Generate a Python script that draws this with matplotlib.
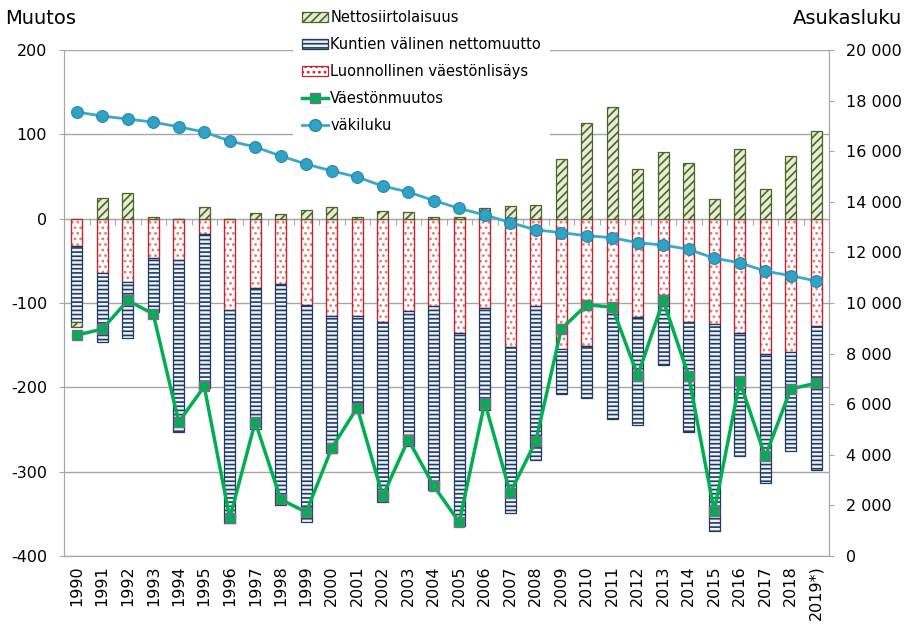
import numpy as np
import matplotlib
matplotlib.use('Agg')
import matplotlib.pyplot as plt
from matplotlib.patches import Patch
from matplotlib.lines import Line2D
from matplotlib.ticker import FuncFormatter, MultipleLocator

# data
years = ['1990', '1991', '1992', '1993', '1994', '1995', '1996', '1997', '1998', '1999',
         '2000', '2001', '2002', '2003', '2004', '2005', '2006', '2007', '2008', '2009',
         '2010', '2011', '2012', '2013', '2014', '2015', '2016', '2017', '2018', '2019*)']

luonnollinen = [-32, -65, -75, -47, -49, -18, -108, -82, -78, -102,
                -116, -116, -122, -110, -103, -136, -106, -152, -103, -154,
                -151, -111, -117, -91, -123, -125, -136, -160, -158, -127]

kuntien = [-91, -81, -67, -64, -204, -183, -253, -167, -262, -258,
           -162, -115, -214, -159, -219, -228, -121, -197, -183, -54,
           -62, -126, -128, -83, -130, -245, -145, -154, -117, -171]

netto = [-5, 25, 30, 2, 0, 14, 0, 7, 5, 10,
         14, 2, 9, 8, 2, 2, 13, 15, 16, 71,
         113, 132, 59, 79, 66, 23, 83, 35, 74, 104]

muutos = [-138, -131, -97, -113, -241, -199, -355, -241, -333, -348,
          -272, -224, -329, -262, -317, -360, -218, -325, -264, -131,
          -102, -105, -186, -97, -187, -347, -193, -282, -202, -195]

vakiluku = [17550, 17390, 17270, 17150, 16960, 16760, 16400, 16170, 15810, 15490,
            15220, 14980, 14620, 14390, 14050, 13740, 13480, 13180, 12890, 12780,
            12660, 12580, 12380, 12290, 12120, 11770, 11590, 11260, 11080, 10870]

RED = '#c0262d'
NAVY = '#1f3b63'
OLIVE = '#4f6228'
GREEN = '#00b050'
CYAN = '#3aa9c9'
GRID = '#a6a6a6'

plt.rcParams['font.family'] = 'DejaVu Sans'
plt.rcParams['hatch.linewidth'] = 1.2

fig = plt.figure(figsize=(9.06, 6.29), dpi=100)
ax = fig.add_axes([64 / 906, 1 - 556 / 629, (829 - 64) / 906, (556 - 50) / 629])

x = np.arange(len(years))
lu = np.array(luonnollinen, dtype=float)
ku = np.array(kuntien, dtype=float)
ne = np.array(netto, dtype=float)
w = 0.43

# natural increase: light dotted fill + red outline
ax.bar(x, lu, w, bottom=0, facecolor='white', edgecolor='#e57a7a', hatch='...', lw=0, zorder=2)
ax.bar(x, lu, w, bottom=0, facecolor='none', edgecolor=RED, lw=1.0, zorder=2)
ax.bar(x, ku, w, bottom=lu, facecolor='#eef2f8', edgecolor=NAVY, hatch='----', lw=0.9, zorder=2)
ne_bottom = np.where(ne < 0, lu + ku, 0)
ax.bar(x, ne, w, bottom=ne_bottom, facecolor='#e6edd4', edgecolor=OLIVE, hatch='////', lw=0.9, zorder=2)

ax.plot(x, muutos, color=GREEN, lw=2.5, marker='s', ms=7.5, mfc=GREEN, mec='#7b6a94',
        mew=1, zorder=5)

ax.set_xlim(-0.5, len(years) - 0.5)
ax.set_ylim(-400, 200)
ax.yaxis.set_major_locator(MultipleLocator(100))
ax.yaxis.set_major_formatter(FuncFormatter(lambda v, p: '%d' % v))
ax.set_axisbelow(True)
ax.grid(axis='y', color=GRID, lw=1)
ax.set_xticks(x)
ax.set_xticklabels(years, rotation=90)
ax.tick_params(axis='x', length=0, pad=7, labelsize=11.5)
ax.tick_params(axis='y', length=3.6, direction='out', color=GRID, pad=8.5, labelsize=11.5)
ax.spines['top'].set_visible(False)
for s in ['left', 'bottom', 'right']:
    ax.spines[s].set_color(GRID)

# category ticks on the zero line
zero_pos = (0 - (-400)) / 600
sec = ax.secondary_xaxis(zero_pos)
sec.set_xticks(np.arange(len(years) + 1) - 0.5)
sec.xaxis.set_ticks_position('bottom')
sec.tick_params(axis='x', direction='out', length=4, color=GRID, labelbottom=False, labeltop=False)
for s in sec.spines.values():
    s.set_color(GRID)

ax2 = ax.twinx()
ax2.plot(x, vakiluku, color=CYAN, lw=2, marker='o', ms=8.5, mfc='#2fa3c6', mec='#2a86a8',
         mew=0.8, zorder=5)
ax2.set_ylim(0, 20000)
ax2.yaxis.set_major_locator(MultipleLocator(2000))
ax2.yaxis.set_major_formatter(FuncFormatter(lambda v, p: '{:,.0f}'.format(v).replace(',', ' ')))
ax2.tick_params(axis='y', length=3.6, direction='out', color=GRID, pad=8.5, labelsize=11.5)
ax2.spines['top'].set_visible(False)
for s in ['left', 'bottom', 'right']:
    ax2.spines[s].set_color(GRID)

fig.text(5 / 906, 1 - 18 / 629, 'Muutos', fontsize=14, va='center', ha='left')
fig.text(902 / 906, 1 - 18 / 629, 'Asukasluku', fontsize=14, va='center', ha='right')

handles = [
    Patch(facecolor='#e6edd4', edgecolor=OLIVE, hatch='////', lw=0.9),
    Patch(facecolor='#eef2f8', edgecolor=NAVY, hatch='----', lw=0.9),
    Patch(facecolor='white', edgecolor=RED, hatch='...', lw=0.9),
    Line2D([], [], color=GREEN, lw=2.5, marker='s', ms=7.5, mfc=GREEN, mec='#7b6a94'),
    Line2D([], [], color=CYAN, lw=2, marker='o', ms=8.5, mfc='#2fa3c6', mec='#2a86a8'),
]
labels = ['Nettosiirtolaisuus', 'Kuntien välinen nettomuutto', 'Luonnollinen väestönlisäys',
          'Väestönmuutos', 'väkiluku']
leg = ax2.legend(handles, labels, loc='upper left', bbox_to_anchor=(293 / 906, 1 - 1 / 629),
                 bbox_transform=fig.transFigure, fontsize=10.5, frameon=True, fancybox=False,
                 edgecolor='none', facecolor='white', framealpha=1, handlelength=1.8,
                 handletextpad=0.15, labelspacing=0.83, borderpad=0.6, borderaxespad=0)
leg.set_zorder(10)

fig.savefig('out.png', dpi=100)
